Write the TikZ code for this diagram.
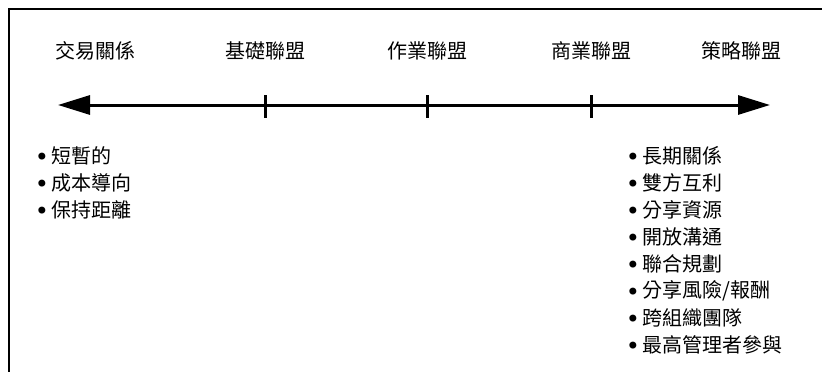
\documentclass[tikz,border=0pt]{standalone}
\usepackage{fontspec}
\newfontfamily\cjk{Noto Sans CJK TC}
\newfontfamily\dejavu{DejaVu Sans}
\usetikzlibrary{arrows.meta}
\tikzset{
  frame/.style={line width=2pt, black},
  axis/.style={line width=3pt, {Triangle[length=32pt,width=19pt]}-{Triangle[length=32pt,width=19pt]}},
  tick/.style={line width=3pt},
  stage/.style={font=\cjk\fontsize{20}{24}\selectfont, inner sep=0pt},
  item/.style={font=\cjk\fontsize{20}{22}\selectfont, inner sep=0pt, anchor=west},
  bullet/.style={font=\dejavu\fontsize{24}{24}\selectfont, inner sep=0pt, yshift=-3pt},
}
\begin{document}
\begin{tikzpicture}[x=1pt,y=-1pt]
\useasboundingbox (0,0) rectangle (822,372);
% frame
\coordinate (fa) at (9,372);
\coordinate (fb) at (9,9);
\coordinate (fc) at (822,9);
\draw[frame] (fa) -- (fb) -- (fc);
% axis
\coordinate (al) at (58,105);
\coordinate (ar) at (770,105);
\draw[axis] (al) -- (ar);
\foreach \x/\n in {265/t1,427/t2,591/t3}{
  \coordinate (\n a) at (\x,95);
  \coordinate (\n b) at (\x,118);
  \draw[tick] (\n a) -- (\n b);
}
% stage labels
\node[stage] (s1) at (95,51) {交易關係};
\node[stage] (s2) at (265,51) {基礎聯盟};
\node[stage] (s3) at (427,51) {作業聯盟};
\node[stage] (s4) at (591,51) {商業聯盟};
\node[stage] (s5) at (741,51) {策略聯盟};
% left list
\foreach \y/\n in {156/l1,183/l2,210/l3}{
  \node[bullet] (\n b) at (42,\y) {•};
}
\node[item] (l1) at (51,156) {短暫的};
\node[item] (l2) at (51,183) {成本導向};
\node[item] (l3) at (51,210) {保持距離};
% right list
\foreach \y/\n in {156/r1,183/r2,210/r3,237/r4,264/r5,291/r6,318/r7,345/r8}{
  \node[bullet] (\n b) at (633,\y) {•};
}
\node[item] (r1) at (642,156) {長期關係};
\node[item] (r2) at (642,183) {雙方互利};
\node[item] (r3) at (642,210) {分享資源};
\node[item] (r4) at (642,237) {開放溝通};
\node[item] (r5) at (642,264) {聯合規劃};
\node[item] (r6) at (642,291) {分享風險/報酬};
\node[item] (r7) at (642,318) {跨組織團隊};
\node[item] (r8) at (642,345) {最高管理者參與};
\end{tikzpicture}
\end{document}
